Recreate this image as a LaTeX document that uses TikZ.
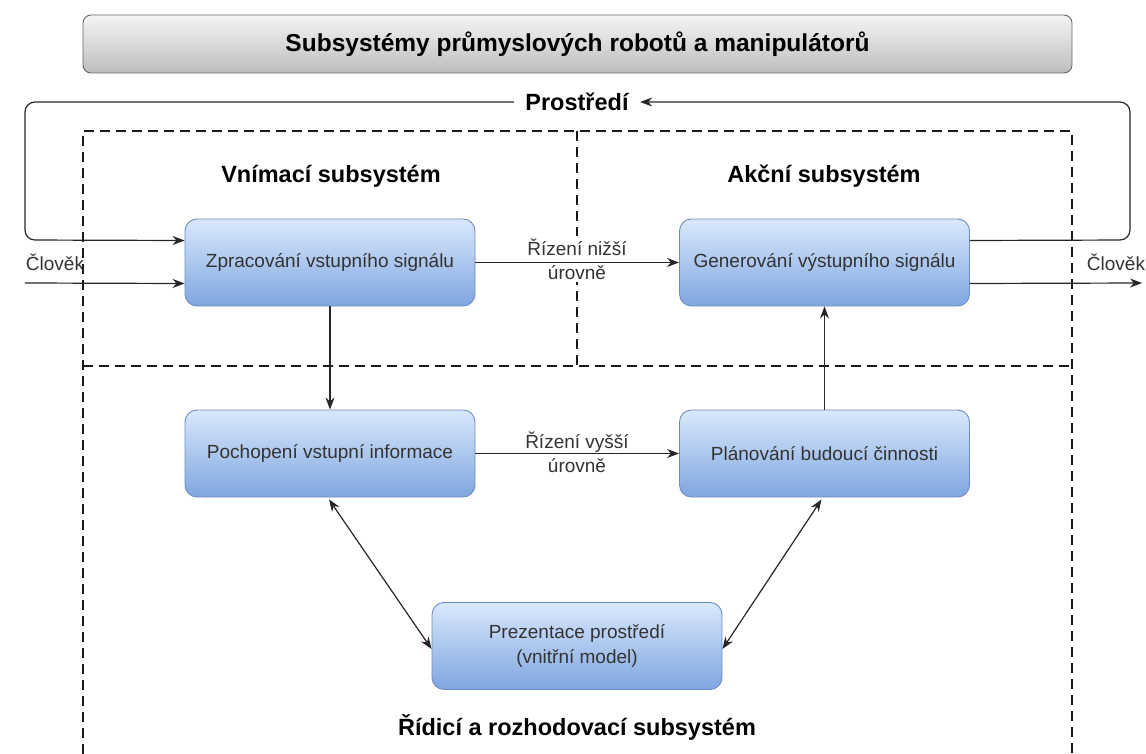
\documentclass[tikz,border=0pt]{standalone}
\usepackage{fontspec}
\setmainfont{Liberation Sans}
\usetikzlibrary{arrows.meta}
\definecolor{boxtop}{HTML}{DAE8FC}
\definecolor{boxbot}{HTML}{7EA6E0}
\definecolor{boxline}{HTML}{6C8EBF}
\definecolor{ttop}{HTML}{F5F5F5}
\definecolor{tbot}{HTML}{BDBDBD}
\definecolor{txt}{HTML}{333333}
\tikzset{
  blk/.style={draw=boxline, line width=0.9pt, rounded corners=12pt, top color=boxtop, bottom color=boxbot,
    minimum width=290pt, minimum height=87pt, align=center, text=txt,
    font=\fontsize{19}{25}\selectfont},
  head/.style={font=\fontsize{23.5}{28}\selectfont\bfseries, text=black},
  lbl/.style={font=\fontsize{19}{24}\selectfont, text=txt, align=center},
  conn/.style={line width=1.2pt, draw=black!85, -{Stealth[length=12pt,width=9pt]}},
  dconn/.style={line width=1.2pt, draw=black!85, {Stealth[length=12pt,width=9pt]}-{Stealth[length=12pt,width=9pt]}},
  dsh/.style={line width=2.8pt, dash pattern=on 10pt off 6pt, draw=black!90},
}
\begin{document}
\begin{tikzpicture}[x=1pt,y=-1pt]
\useasboundingbox (0,0) rectangle (1146,754);
% title
\node[draw=black!60, line width=0.9pt, rounded corners=8pt, top color=ttop, bottom color=tbot,
  minimum width=989pt, minimum height=58pt, font=\fontsize{24.5}{28}\selectfont\bfseries] (title) at (577.5,44)
  {Subsystémy průmyslových robotů a manipulátorů};
% dashed regions
\draw[dsh] (83,754) -- (83,131) -- (1072,131) -- (1072,754);
\draw[dsh] (577,131) -- (577,366);
\draw[dsh] (83,366) -- (1072,366);
% headings
\node[head] (env) at (577,102) {Prostředí};
\node[head] (h1) at (331,176) {Vnímací subsystém};
\node[head] (h2) at (824,176) {Akční subsystém};
\node[head] (h3) at (577,727) {Řídicí a rozhodovací subsystém};
% blocks
\node[blk] (zp) at (330,262.5) {Zpracování vstupního signálu};
\node[blk] (gen) at (824.5,262.5) {Generování výstupního signálu};
\node[blk] (poch) at (330,453.5) {Pochopení vstupní informace};
\node[blk] (plan) at (824.5,453.5) {Plánování budoucí činnosti};
\node[blk] (prez) at (577,646) {Prezentace prostředí\\(vnitřní model)};
% labels
\node[lbl, fill=white, inner sep=3pt] (l1) at (577,259) {Řízení nižší\\úrovně};
\node[lbl, fill=white, inner sep=3pt] (l2) at (577,452) {Řízení vyšší\\úrovně};
\node[lbl] (c1) at (55,262) {Člověk};
\node[lbl] (c2) at (1116,262) {Člověk};
% coordinates
\coordinate (lt) at (25,102);
\coordinate (lb) at (25,240);
\coordinate (rt) at (1130,102);
\coordinate (rb) at (1130,240);
\coordinate (hin) at (25,283);
\coordinate (hout) at (1142,283);
% connectors
\draw[conn] (zp.east) -- (gen.west);
\draw[conn] (poch.east) -- (plan.west);
\draw[conn] (zp.south) -- (poch.north);
\draw[conn] (plan.north) -- (gen.south);
\draw[conn, rounded corners=10pt] ([xshift=-8pt]env.west) -- (lt) -- (lb) -- ([yshift=22pt]zp.west);
\draw[conn, rounded corners=10pt] ([yshift=22pt]gen.east) -- (rb) -- (rt) -- ([xshift=8pt]env.east);
\draw[conn] (hin) -- ([yshift=-21pt]zp.west);
\draw[conn] ([yshift=-21pt]gen.east) -- (hout);
\draw[dconn] ([xshift=-1pt,yshift=-2pt]poch.south) -- ([yshift=-3pt]prez.west);
\draw[dconn] ([xshift=-3pt,yshift=-2pt]plan.south) -- ([yshift=-3pt]prez.east);
\end{tikzpicture}
\end{document}
